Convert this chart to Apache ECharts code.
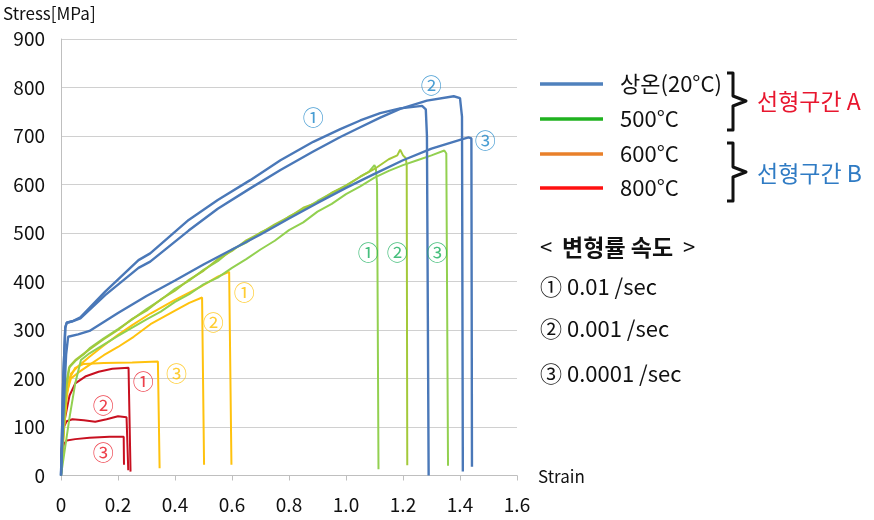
<!DOCTYPE html>
<html>
<head>
<meta charset="utf-8">
<script src="https://cdn.jsdelivr.net/npm/echarts@6/dist/echarts.min.js"></script>
<style>
html,body{margin:0;padding:0;background:#fff;}
#c{width:874px;height:520px;}
</style>
</head>
<body>
<div id="c"></div>
<script>
// ---- Data (strain, stress[MPa]) ----
// 20°C (room temperature)
const rt1 = [[0,0],[0.008,200],[0.015,305],[0.02,315],[0.04,318],[0.068,326],[0.155,379],[0.272,444],[0.313,458],[0.448,527],[0.55,568],[0.664,609],[0.77,650],[0.885,688],[0.98,714],[1.05,732],[1.12,747],[1.19,757],[1.267,762],[1.28,755],[1.284,700],[1.29,0]];
const rt2 = [[0,0],[0.008,200],[0.015,305],[0.02,315],[0.04,318],[0.068,324],[0.155,372],[0.272,428],[0.313,441],[0.448,505],[0.55,550],[0.664,592],[0.77,630],[0.885,668],[0.98,698],[1.05,718],[1.12,738],[1.19,756],[1.284,773],[1.378,782],[1.4,778],[1.407,740],[1.41,8]];
const rt3 = [[0,0],[0.008,120],[0.018,250],[0.025,286],[0.06,291],[0.1,298],[0.2,335],[0.3,370],[0.4,402],[0.5,435],[0.6,466],[0.7,497],[0.8,530],[0.9,562],[1.0,593],[1.1,622],[1.2,650],[1.3,674],[1.4,692],[1.43,697],[1.44,695],[1.442,18]];
// 500°C
const t500_1 = [[0,0],[0.01,110],[0.02,195],[0.028,222],[0.05,236],[0.08,250],[0.1,262],[0.15,283],[0.2,302],[0.25,322],[0.3,343],[0.35,362],[0.4,385],[0.45,402],[0.5,424],[0.55,442],[0.6,466],[0.65,480],[0.7,501],[0.75,514],[0.8,534],[0.85,548],[0.9,566],[0.95,582],[1.0,598],[1.05,616],[1.08,626],[1.1,640],[1.105,632],[1.109,600],[1.114,13]];
const t500_2 = [[0,0],[0.01,100],[0.02,185],[0.03,225],[0.05,238],[0.1,260],[0.15,281],[0.2,300],[0.25,323],[0.3,340],[0.35,363],[0.4,381],[0.45,404],[0.5,422],[0.55,446],[0.6,463],[0.65,485],[0.7,500],[0.75,518],[0.8,533],[0.85,552],[0.9,563],[0.95,583],[1.0,597],[1.05,616],[1.1,632],[1.15,652],[1.18,660],[1.19,672],[1.2,660],[1.21,654],[1.213,640],[1.215,21]];
const t500_3 = [[0,0],[0.01,40],[0.03,120],[0.05,190],[0.07,238],[0.1,252],[0.15,270],[0.2,288],[0.25,305],[0.3,322],[0.35,338],[0.4,358],[0.45,374],[0.5,394],[0.55,408],[0.6,428],[0.65,446],[0.7,466],[0.75,484],[0.8,506],[0.85,522],[0.9,544],[0.95,560],[1.0,580],[1.05,596],[1.1,614],[1.15,628],[1.2,640],[1.25,650],[1.3,660],[1.345,670],[1.352,664],[1.358,20]];
// 600°C
const t600_1 = [[0,0],[0.01,100],[0.02,170],[0.035,210],[0.06,225],[0.1,245],[0.15,268],[0.2,290],[0.25,310],[0.314,334],[0.4,362],[0.489,389],[0.55,410],[0.59,420],[0.597,420],[0.598,22]];
const t600_2 = [[0,0],[0.01,100],[0.02,170],[0.035,200],[0.06,212],[0.1,228],[0.15,248],[0.2,265],[0.255,286],[0.314,312],[0.4,340],[0.45,356],[0.495,367],[0.5,367],[0.502,22]];
const t600_3 = [[0,0],[0.01,90],[0.02,160],[0.03,200],[0.05,222],[0.08,230],[0.15,232],[0.25,233],[0.34,235],[0.345,235],[0.346,15]];
// 800°C
const t800_1 = [[0,30],[0.005,80],[0.015,121],[0.03,165],[0.05,190],[0.085,204],[0.132,214],[0.18,220],[0.237,222],[0.243,222],[0.244,8]];
const t800_2 = [[0,35],[0.005,70],[0.01,100],[0.02,112],[0.04,116],[0.08,114],[0.12,111],[0.16,116],[0.2,122],[0.23,120],[0.235,120],[0.236,11]];
const t800_3 = [[0,30],[0.005,50],[0.01,65],[0.02,72],[0.05,75],[0.1,78],[0.17,80],[0.21,80],[0.22,80],[0.221,22]];

// circled rate labels positioned in data space
const rtLabels = [[0.885,739,'①'],[1.299,805,'②'],[1.489,692,'③']];
const t500Labels = [[1.078,461,'①'],[1.180,461,'②'],[1.320,461,'③']];
const t600Labels = [[0.643,378,'①'],[0.534,316,'②'],[0.405,211,'③']];
const t800Labels = [[0.289,195,'①'],[0.148,145,'②'],[0.148,48,'③']];

const legendNames = ['상온(20°C)','500°C','600°C','800°C'];
const rateTitleParts = ['<', '변형률 속도', '>'];
const rateNames = ['① 0.01 /sec','② 0.001 /sec','③ 0.0001 /sec'];
const groupNames = ['선형구간 A','선형구간 B'];

const FONT = '"Noto Sans CJK KR", "Noto Sans", sans-serif';

function line(data, color, w) {
  return {type:'line', data:data, showSymbol:false, symbol:'none', silent:true,
    lineStyle:{color:color, width:w||2}, animation:false, z:2};
}
function labels(arr, color) {
  return {type:'scatter', data:arr.map(a=>[a[0],a[1],a[2]]), symbolSize:0, silent:true, animation:false, z:5,
    label:{show:true, position:'inside', formatter:p=>p.data[2], color:color, fontSize:21, fontFamily:FONT}};
}

const chart = echarts.init(document.getElementById('c'), null, {renderer:'canvas'});
const legendColors = ['#4F81BD','#1FB21F','#E9802A','#FF1010'];
const legendY = [84,119,154,188];
const graphic = [];
legendY.forEach((y,i)=>{
  graphic.push({type:'line', shape:{x1:540,y1:y,x2:603,y2:y}, style:{stroke:legendColors[i], lineWidth:3.5}});
  graphic.push({type:'text', x:620, y:y, style:{text:legendNames[i], font:'22px '+FONT, fill:'#111', textVerticalAlign:'middle'}});
});
// braces
function brace(top, mid, bot){
  return {type:'polyline', shape:{points:[[727,top],[733,top],[733,mid-5],[746,mid],[733,mid+5],[733,bot],[727,bot]]},
    style:{stroke:'#111', lineWidth:3, fill:null, lineJoin:'round'}};
}
graphic.push(brace(73,101,130));
graphic.push(brace(143,172,201));
graphic.push({type:'text', x:757, y:101, style:{text:groupNames[0], font:'23px '+FONT, fill:'#E8162E', textVerticalAlign:'middle'}});
graphic.push({type:'text', x:757, y:173, style:{text:groupNames[1], font:'23px '+FONT, fill:'#2F7BC4', textVerticalAlign:'middle'}});
graphic.push({type:'text', x:540, y:247, style:{
  text:'{a|'+rateTitleParts[0]+'}  {b|'+rateTitleParts[1]+'}  {a|'+rateTitleParts[2]+'}',
  font:'22px '+FONT, fill:'#111', textVerticalAlign:'middle',
  rich:{a:{fontSize:22, fontFamily:FONT, fill:'#111'}, b:{fontSize:23, fontWeight:'bold', fontFamily:FONT, fill:'#111'}}}});
[287,329,374].forEach((y,i)=>{
  graphic.push({type:'text', x:540, y:y, style:{text:rateNames[i], font:'22px '+FONT, fill:'#111', textVerticalAlign:'middle'}});
});
graphic.push({type:'text', x:3, y:14, style:{text:'Stress[MPa]', font:'17px '+FONT, fill:'#111', textVerticalAlign:'middle'}});
graphic.push({type:'text', x:538, y:477, style:{text:'Strain', font:'17px '+FONT, fill:'#111', textVerticalAlign:'middle'}});

chart.setOption({
  backgroundColor:'#fff',
  animation:false,
  grid:{left:61, right:357, top:39, bottom:44.5, containLabel:false, outerBoundsMode:'none'},
  xAxis:{type:'value', min:0, max:1.6, interval:0.2,
    axisLine:{show:true, lineStyle:{color:'#BFBFBF', width:1}},
    axisTick:{show:true, length:5, lineStyle:{color:'#BFBFBF'}},
    splitLine:{show:false},
    axisLabel:{formatter:v=> v===0?'0':v.toFixed(1), color:'#111', fontSize:19, fontFamily:FONT, margin:20}},
  yAxis:{type:'value', min:0, max:900, interval:100,
    axisLine:{show:true, lineStyle:{color:'#BFBFBF', width:1}},
    axisTick:{show:false},
    splitLine:{show:true, lineStyle:{color:'#D0D0D0', width:1}},
    axisLabel:{color:'#111', fontSize:19, fontFamily:FONT, margin:16}},
  graphic:graphic,
  series:[
    line(t800_1,'#C81020',2), line(t800_2,'#C81020',2), line(t800_3,'#C81020',2),
    line(t600_1,'#FFC20E',2), line(t600_2,'#FFC20E',2), line(t600_3,'#FFC20E',2),
    line(t500_1,'#92D050',2), line(t500_2,'#A3C93A',2), line(t500_3,'#92D050',2),
    line(rt1,'#4A78B8',2.4), line(rt2,'#4A78B8',2.4), line(rt3,'#4A78B8',2.4),
    labels(rtLabels,'#1D86C8'), labels(t500Labels,'#19AF5C'), labels(t600Labels,'#FFC000'), labels(t800Labels,'#E8101E')
  ]
});
</script>
</body>
</html>
